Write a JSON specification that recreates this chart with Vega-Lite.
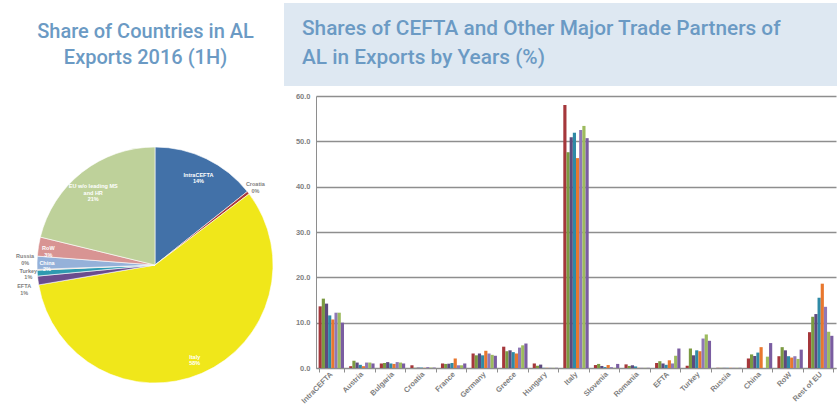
{
  "$schema": "https://vega.github.io/schema/vega-lite/v6.json",
  "background": "white",
  "padding": {"left": 7, "top": 3, "right": 0, "bottom": 0},
  "config": {"view": {"stroke": null}},
  "spacing": 6,
  "resolve": {"scale": {"color": "independent"}},
  "vconcat": [
    {
      "spacing": 0,
      "hconcat": [
        {
          "width": 277,
          "height": 83,
          "data": {"values": [{}]},
          "mark": {"type": "text", "text": ["Share of Countries in AL", "Exports 2016 (1H)"], "font": "Roboto", "fontSize": 20, "fontWeight": 500, "color": "#6B9AC4", "lineHeight": 26.5, "baseline": "middle", "align": "center", "dy": -13},
          "encoding": {}
        },
        {
          "width": 553,
          "height": 83,
          "data": {"values": [{}]},
          "mark": {"type": "rect", "color": "#DEE8F2"},
          "encoding": {},
          "title": {
            "text": ["Shares of CEFTA and Other Major Trade Partners of", "AL in Exports by Years (%)"],
            "orient": "top",
            "anchor": "start",
            "frame": "group",
            "offset": -66,
            "dx": 18,
            "baseline": "top",
            "font": "Roboto",
            "fontSize": 20.8,
            "fontWeight": 500,
            "color": "#6B9AC4",
            "lineHeight": 29
          }
        }
      ]
    },
    {
      "spacing": 0,
      "resolve": {"scale": {"color": "independent"}},
      "hconcat": [
        {
          "width": 277,
          "height": 300,
          "data": {"values": [
            {"name": "IntraCEFTA", "share": 14.3, "k": 1, "label": "IntraCEFTA\n14%"},
            {"name": "Croatia", "share": 0.4, "k": 2, "label": "Croatia\n0%"},
            {"name": "Italy", "share": 57.6, "k": 3, "label": "Italy\n58%"},
            {"name": "EFTA", "share": 1.2, "k": 4, "label": "EFTA\n1%"},
            {"name": "Turkey", "share": 0.8, "k": 5, "label": "Turkey\n1%"},
            {"name": "Russia", "share": 0.1, "k": 6, "label": "Russia\n0%"},
            {"name": "China", "share": 1.8, "k": 7, "label": "China\n2%"},
            {"name": "RoW", "share": 2.6, "k": 8, "label": "RoW\n3%"},
            {"name": "EU w/o leading MS and HR", "share": 21.2, "k": 9, "label": "EU w/o leading MS\nand HR\n21%"}
          ]},
          "encoding": {
            "theta": {"field": "share", "type": "quantitative", "stack": true},
            "order": {"field": "k", "type": "quantitative"},
            "color": {
              "field": "name", "type": "nominal", "legend": null,
              "scale": {
                "domain": ["IntraCEFTA", "Croatia", "Italy", "EFTA", "Turkey", "Russia", "China", "RoW", "EU w/o leading MS and HR"],
                "range": ["#4271A8", "#A8373B", "#F0E71A", "#6A4C8E", "#2E9AB0", "#F79646", "#95B1D9", "#D89493", "#BED19A"]
              }
            }
          },
          "layer": [
            {"mark": {"type": "arc", "outerRadius": 118, "stroke": "white", "strokeWidth": 0.6, "xOffset": 9.5, "yOffset": 19}},
            {
              "mark": {"type": "text", "radius": 100, "xOffset": 9.5, "yOffset": 19, "font": "Liberation Sans", "fontSize": 5.5, "fontWeight": "bold", "lineBreak": "\n", "lineHeight": 6.5},
              "encoding": {
                "text": {"condition": {"test": "indexof(['IntraCEFTA','Italy','EU w/o leading MS and HR'], datum.name) >= 0", "field": "label"}, "value": ""},
                "color": {"value": "white"}
              }
            },
            {
              "mark": {"type": "text", "radius": 108, "xOffset": 9.5, "yOffset": 19, "font": "Liberation Sans", "fontSize": 5.5, "fontWeight": "bold", "lineBreak": "\n", "lineHeight": 6.5},
              "encoding": {
                "text": {"condition": {"test": "indexof(['RoW','China'], datum.name) >= 0", "field": "label"}, "value": ""},
                "color": {"value": "white"}
              }
            },
            {
              "mark": {"type": "text", "radius": 127, "xOffset": 9.5, "yOffset": 19, "dy": -3, "font": "Liberation Sans", "fontSize": 5.5, "fontWeight": "bold", "lineBreak": "\n", "lineHeight": 6.5},
              "encoding": {
                "text": {"condition": {"test": "indexof(['Croatia','Turkey'], datum.name) >= 0", "field": "label"}, "value": ""},
                "color": {"value": "#7F7F7F"}
              }
            },
            {
              "mark": {"type": "text", "radius": 130, "xOffset": 9.5, "yOffset": 19, "dy": -14, "font": "Liberation Sans", "fontSize": 5.5, "fontWeight": "bold", "lineBreak": "\n", "lineHeight": 6.5},
              "encoding": {
                "text": {"condition": {"test": "datum.name == 'Russia'", "field": "label"}, "value": ""},
                "color": {"value": "#7F7F7F"}
              }
            },
            {
              "mark": {"type": "text", "radius": 132, "xOffset": 9.5, "yOffset": 19, "dy": 4, "font": "Liberation Sans", "fontSize": 5.5, "fontWeight": "bold", "lineBreak": "\n", "lineHeight": 6.5},
              "encoding": {
                "text": {"condition": {"test": "datum.name == 'EFTA'", "field": "label"}, "value": ""},
                "color": {"value": "#7F7F7F"}
              }
            }
          ]
        },
        {
          "width": 520,
          "height": 272,
          "data": {"values": [
            {"c": "IntraCEFTA", "s": "2009", "v": 13.6}, {"c": "IntraCEFTA", "s": "2010", "v": 15.3}, {"c": "IntraCEFTA", "s": "2011", "v": 14.2}, {"c": "IntraCEFTA", "s": "2012", "v": 11.6}, {"c": "IntraCEFTA", "s": "2013", "v": 10.7}, {"c": "IntraCEFTA", "s": "2014", "v": 12.2}, {"c": "IntraCEFTA", "s": "2015", "v": 12.2}, {"c": "IntraCEFTA", "s": "2016", "v": 10.0},
            {"c": "Austria", "s": "2009", "v": 0.4}, {"c": "Austria", "s": "2010", "v": 1.6}, {"c": "Austria", "s": "2011", "v": 1.2}, {"c": "Austria", "s": "2012", "v": 0.7}, {"c": "Austria", "s": "2013", "v": 0.4}, {"c": "Austria", "s": "2014", "v": 1.2}, {"c": "Austria", "s": "2015", "v": 1.2}, {"c": "Austria", "s": "2016", "v": 1.0},
            {"c": "Bulgaria", "s": "2009", "v": 1.0}, {"c": "Bulgaria", "s": "2010", "v": 1.1}, {"c": "Bulgaria", "s": "2011", "v": 1.3}, {"c": "Bulgaria", "s": "2012", "v": 1.0}, {"c": "Bulgaria", "s": "2013", "v": 0.9}, {"c": "Bulgaria", "s": "2014", "v": 1.3}, {"c": "Bulgaria", "s": "2015", "v": 1.2}, {"c": "Bulgaria", "s": "2016", "v": 1.0},
            {"c": "Croatia", "s": "2009", "v": 0.6}, {"c": "Croatia", "s": "2010", "v": 0.05}, {"c": "Croatia", "s": "2011", "v": 0.1}, {"c": "Croatia", "s": "2012", "v": 0.1}, {"c": "Croatia", "s": "2013", "v": 0.05}, {"c": "Croatia", "s": "2014", "v": 0.2}, {"c": "Croatia", "s": "2015", "v": 0.1}, {"c": "Croatia", "s": "2016", "v": 0.1},
            {"c": "France", "s": "2009", "v": 1.0}, {"c": "France", "s": "2010", "v": 0.9}, {"c": "France", "s": "2011", "v": 0.95}, {"c": "France", "s": "2012", "v": 1.1}, {"c": "France", "s": "2013", "v": 2.1}, {"c": "France", "s": "2014", "v": 0.6}, {"c": "France", "s": "2015", "v": 0.6}, {"c": "France", "s": "2016", "v": 1.0},
            {"c": "Germany", "s": "2009", "v": 3.2}, {"c": "Germany", "s": "2010", "v": 2.8}, {"c": "Germany", "s": "2011", "v": 3.2}, {"c": "Germany", "s": "2012", "v": 2.8}, {"c": "Germany", "s": "2013", "v": 3.8}, {"c": "Germany", "s": "2014", "v": 3.2}, {"c": "Germany", "s": "2015", "v": 2.9}, {"c": "Germany", "s": "2016", "v": 2.7},
            {"c": "Greece", "s": "2009", "v": 4.7}, {"c": "Greece", "s": "2010", "v": 3.7}, {"c": "Greece", "s": "2011", "v": 3.9}, {"c": "Greece", "s": "2012", "v": 3.5}, {"c": "Greece", "s": "2013", "v": 3.2}, {"c": "Greece", "s": "2014", "v": 4.5}, {"c": "Greece", "s": "2015", "v": 5.0}, {"c": "Greece", "s": "2016", "v": 5.4},
            {"c": "Hungary", "s": "2009", "v": 1.0}, {"c": "Hungary", "s": "2010", "v": 0.5}, {"c": "Hungary", "s": "2011", "v": 0.75}, {"c": "Hungary", "s": "2012", "v": 0.05}, {"c": "Hungary", "s": "2013", "v": 0.05}, {"c": "Hungary", "s": "2014", "v": 0.05}, {"c": "Hungary", "s": "2015", "v": 0.05}, {"c": "Hungary", "s": "2016", "v": 0.05},
            {"c": "Italy", "s": "2009", "v": 58.0}, {"c": "Italy", "s": "2010", "v": 47.6}, {"c": "Italy", "s": "2011", "v": 50.9}, {"c": "Italy", "s": "2012", "v": 51.9}, {"c": "Italy", "s": "2013", "v": 46.3}, {"c": "Italy", "s": "2014", "v": 52.5}, {"c": "Italy", "s": "2015", "v": 53.4}, {"c": "Italy", "s": "2016", "v": 50.7},
            {"c": "Slovenia", "s": "2009", "v": 0.65}, {"c": "Slovenia", "s": "2010", "v": 0.9}, {"c": "Slovenia", "s": "2011", "v": 0.45}, {"c": "Slovenia", "s": "2012", "v": 0.2}, {"c": "Slovenia", "s": "2013", "v": 0.65}, {"c": "Slovenia", "s": "2014", "v": 0.2}, {"c": "Slovenia", "s": "2015", "v": 0.05}, {"c": "Slovenia", "s": "2016", "v": 0.9},
            {"c": "Romania", "s": "2009", "v": 0.8}, {"c": "Romania", "s": "2010", "v": 0.45}, {"c": "Romania", "s": "2011", "v": 0.6}, {"c": "Romania", "s": "2012", "v": 0.35}, {"c": "Romania", "s": "2013", "v": 0.05}, {"c": "Romania", "s": "2014", "v": 0.05}, {"c": "Romania", "s": "2015", "v": 0.05}, {"c": "Romania", "s": "2016", "v": 0.05},
            {"c": "EFTA", "s": "2009", "v": 1.1}, {"c": "EFTA", "s": "2010", "v": 1.5}, {"c": "EFTA", "s": "2011", "v": 1.0}, {"c": "EFTA", "s": "2012", "v": 0.7}, {"c": "EFTA", "s": "2013", "v": 1.7}, {"c": "EFTA", "s": "2014", "v": 1.0}, {"c": "EFTA", "s": "2015", "v": 2.7}, {"c": "EFTA", "s": "2016", "v": 4.3},
            {"c": "Turkey", "s": "2009", "v": 0.5}, {"c": "Turkey", "s": "2010", "v": 4.3}, {"c": "Turkey", "s": "2011", "v": 2.8}, {"c": "Turkey", "s": "2012", "v": 3.9}, {"c": "Turkey", "s": "2013", "v": 3.7}, {"c": "Turkey", "s": "2014", "v": 6.5}, {"c": "Turkey", "s": "2015", "v": 7.4}, {"c": "Turkey", "s": "2016", "v": 6.0},
            {"c": "Russia", "s": "2009", "v": 0.05}, {"c": "Russia", "s": "2010", "v": 0.05}, {"c": "Russia", "s": "2011", "v": 0.05}, {"c": "Russia", "s": "2012", "v": 0.05}, {"c": "Russia", "s": "2013", "v": 0.05}, {"c": "Russia", "s": "2014", "v": 0.05}, {"c": "Russia", "s": "2015", "v": 0.05}, {"c": "Russia", "s": "2016", "v": 0.05},
            {"c": "China", "s": "2009", "v": 2.1}, {"c": "China", "s": "2010", "v": 3.0}, {"c": "China", "s": "2011", "v": 2.65}, {"c": "China", "s": "2012", "v": 3.4}, {"c": "China", "s": "2013", "v": 4.6}, {"c": "China", "s": "2014", "v": 0}, {"c": "China", "s": "2015", "v": 2.5}, {"c": "China", "s": "2016", "v": 5.5},
            {"c": "RoW", "s": "2009", "v": 2.6}, {"c": "RoW", "s": "2010", "v": 4.6}, {"c": "RoW", "s": "2011", "v": 3.9}, {"c": "RoW", "s": "2012", "v": 2.6}, {"c": "RoW", "s": "2013", "v": 2.3}, {"c": "RoW", "s": "2014", "v": 2.6}, {"c": "RoW", "s": "2015", "v": 2.0}, {"c": "RoW", "s": "2016", "v": 4.05},
            {"c": "Rest of EU", "s": "2009", "v": 7.9}, {"c": "Rest of EU", "s": "2010", "v": 11.3}, {"c": "Rest of EU", "s": "2011", "v": 11.9}, {"c": "Rest of EU", "s": "2012", "v": 15.5}, {"c": "Rest of EU", "s": "2013", "v": 18.6}, {"c": "Rest of EU", "s": "2014", "v": 13.5}, {"c": "Rest of EU", "s": "2015", "v": 8.0}, {"c": "Rest of EU", "s": "2016", "v": 7.1}
          ]},
          "mark": {"type": "bar"},
          "encoding": {
            "x": {
              "field": "c", "type": "nominal", "sort": null,
              "scale": {"paddingInner": 0.17, "paddingOuter": 0.085},
              "axis": {"title": null, "labelAngle": -45, "labelAlign": "right", "labelBaseline": "middle", "tickBand": "extent", "tickSize": 4, "tickColor": "#8E8E8E", "domainColor": "#8E8E8E", "labelPadding": 1, "labelFont": "Liberation Sans", "labelFontSize": 7.5, "labelFontWeight": "bold", "labelColor": "#7F7F7F", "grid": false}
            },
            "xOffset": {"field": "s", "type": "nominal", "sort": null, "scale": {"paddingInner": 0, "paddingOuter": 0}},
            "y": {
              "field": "v", "type": "quantitative",
              "scale": {"domain": [0, 60]},
              "axis": {"title": null, "values": [0, 10, 20, 30, 40, 50, 60], "format": ".1f", "grid": true, "gridColor": "#8E8E8E", "gridWidth": 1.4, "ticks": false, "tickSize": 0, "labelPadding": 6, "domainColor": "#8E8E8E", "labelFont": "Liberation Sans", "labelFontSize": 7.5, "labelFontWeight": "bold", "labelColor": "#7F7F7F", "minExtent": 32, "maxExtent": 32}
            },
            "color": {
              "field": "s", "type": "nominal", "legend": null,
              "scale": {"range": ["#A5373B", "#7B9A41", "#5E4A7E", "#2F8AA6", "#E8772E", "#8E78B6", "#9DBB5E", "#7A5DA1"]}
            }
          }
        }
      ]
    }
  ]
}
